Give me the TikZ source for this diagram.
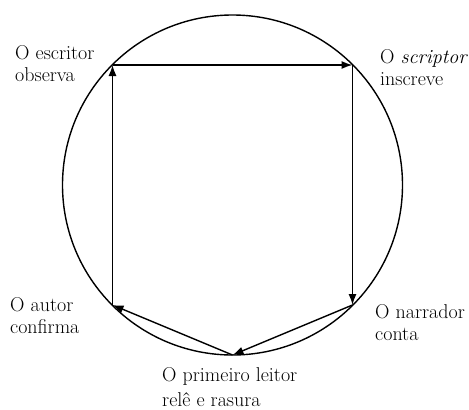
\documentclass[tikz,border=0pt]{standalone}
\usetikzlibrary{arrows.meta}

\begin{document}
\begin{tikzpicture}[x=1pt, y=-1pt,
    etapa/.style={font=\fontsize{20}{22}\selectfont, align=left, inner sep=0pt, anchor=north west},
    seta/.style={line width=1.4pt, -{Latex[length=11pt,width=8pt]}}]
    % 1. Frame of the picture
    \useasboundingbox (0,0) rectangle (469,410);

    % 2. Circle and the five points on it
    \coordinate (O) at (232.5,185);
    \draw[line width=1.4pt] (O) circle (170pt);

    \coordinate (P_escritor) at (112.5,65);  % top left
    \coordinate (P_scriptor) at (352.5,65);  % top right
    \coordinate (P_narrador) at (352.5,305); % bottom right
    \coordinate (P_leitor) at (232.5,355);   % bottom
    \coordinate (P_autor) at (112.5,305);    % bottom left

    % 3. The cycle of arrows
    \draw[seta] (P_escritor) -- (P_scriptor);
    \draw[seta] (P_scriptor) -- (P_narrador);
    \draw[seta] (P_narrador) -- (P_leitor);
    \draw[seta] (P_leitor) -- (P_autor);
    \draw[seta] (P_autor) -- (P_escritor);

    % 4. Labels
    \node[etapa] (escritor) at (15,45) {O escritor\\observa};
    \node[etapa] (scriptor) at (380,49) {O \textit{scriptor}\\inscreve};
    \node[etapa] (narrador) at (375,304) {O narrador\\conta};
    \node[etapa] (autor) at (10,297) {O autor\\confirma};
    \node[etapa] (leitor) at (162,367) {O primeiro leitor\\[3pt]relê e rasura};

\end{tikzpicture}
\end{document}
